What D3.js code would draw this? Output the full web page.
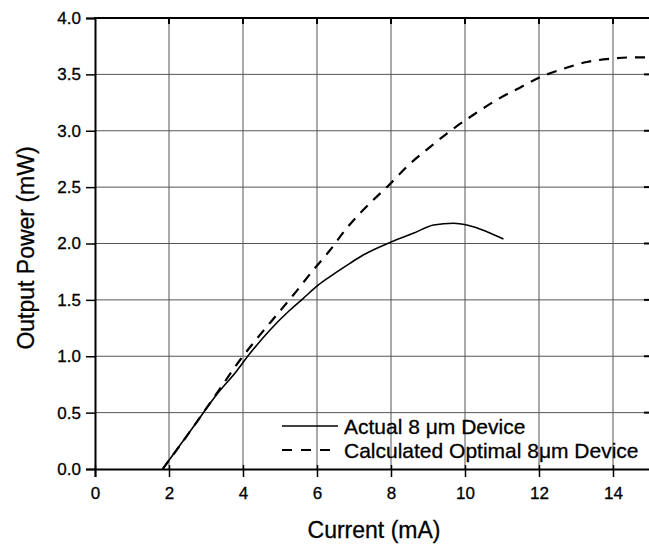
<!DOCTYPE html>
<html>
<head>
<meta charset="utf-8">
<script src="https://cdn.jsdelivr.net/npm/d3@7"></script>
<style>
  body { margin: 0; background: #fff; }
  text { font-family: "Liberation Sans", Arial, sans-serif; fill: #000; stroke: #000; stroke-width: 0.3px; }
</style>
</head>
<body>
<div id="vis"></div>
<script>
const xTicks = [0, 2, 4, 6, 8, 10, 12, 14];
const yTicks = [0, 0.5, 1.0, 1.5, 2.0, 2.5, 3.0, 3.5, 4.0];

// Actual 8 um device (solid)
const actualI = [1.83, 2.66, 3.29, 3.83, 4.19, 4.73, 5.27, 5.63, 6.03, 6.35, 6.89, 7.25, 8.02, 8.6, 9.15, 9.69, 10.05, 10.59, 11.04];
const actualP = [0, 0.375, 0.66, 0.87, 1.026, 1.233, 1.41, 1.514, 1.63, 1.706, 1.824, 1.898, 2.016, 2.09, 2.164, 2.18, 2.164, 2.105, 2.04];

// Calculated optimal 8 um device (dashed)
const optI = [1.83, 2.66, 3.29, 3.92, 4.46, 4.91, 5.36, 5.9, 6.35, 6.8, 7.52, 7.92, 8.49, 9.07, 9.65, 10.22, 10.89, 11.47, 12.0, 12.62, 13.29, 14.0, 14.44, 15.0];
const optP = [0, 0.375, 0.67, 0.967, 1.19, 1.366, 1.543, 1.765, 1.94, 2.135, 2.386, 2.51, 2.70, 2.86, 3.01, 3.14, 3.28, 3.38, 3.47, 3.545, 3.61, 3.64, 3.65, 3.65];

const width = 649, height = 544;
const mLeft = 95, mRight = 650, mTop = 18, mBottom = 469;

const svg = d3.select("#vis").append("svg")
  .attr("width", width)
  .attr("height", height);

const x = d3.scaleLinear().domain([0, 15]).range([mLeft, mRight]);
const y = d3.scaleLinear().domain([0, 4]).range([mBottom, mTop]);

// grid
svg.append("g").selectAll("line").data(xTicks.slice(1)).enter().append("line")
  .attr("x1", d => x(d)).attr("x2", d => x(d))
  .attr("y1", mTop).attr("y2", mBottom)
  .attr("stroke", "#555").attr("stroke-width", 1);
svg.append("g").selectAll("line").data(yTicks.slice(1, -1)).enter().append("line")
  .attr("x1", mLeft).attr("x2", mRight)
  .attr("y1", d => y(d)).attr("y2", d => y(d))
  .attr("stroke", "#555").attr("stroke-width", 1);

// axes
const xAxis = svg.append("g")
  .attr("transform", `translate(0,${mBottom})`)
  .call(d3.axisBottom(x).tickValues(xTicks).tickFormat(d3.format("d")).tickSize(8).tickPadding(10));
const yAxis = svg.append("g")
  .attr("transform", `translate(${mLeft},0)`)
  .call(d3.axisLeft(y).tickValues(yTicks).tickFormat(d3.format(".1f")).tickSize(9).tickPadding(5));

[xAxis, yAxis].forEach(g => {
  g.select(".domain").attr("stroke", "#000").attr("stroke-width", 2);
  g.selectAll(".tick line").attr("stroke", "#000").attr("stroke-width", 1.5);
  g.selectAll("text").attr("font-size", 17)
    .style("font-family", "'Liberation Sans', Arial, sans-serif")
    .attr("stroke", "#000").attr("stroke-width", 0.3);
});
xAxis.selectAll(".tick line").attr("y1", -4);

// top frame and right-side ticks
svg.append("line")
  .attr("x1", mLeft - 1).attr("x2", mRight)
  .attr("y1", mTop).attr("y2", mTop)
  .attr("stroke", "#000").attr("stroke-width", 2);
svg.append("g").selectAll("line").data(xTicks.slice(1)).enter().append("line")
  .attr("x1", d => x(d)).attr("x2", d => x(d))
  .attr("y1", mTop).attr("y2", mTop + 6)
  .attr("stroke", "#000").attr("stroke-width", 2);
svg.append("g").selectAll("line").data(yTicks.slice(1, -1)).enter().append("line")
  .attr("x1", mRight - 6).attr("x2", mRight)
  .attr("y1", d => y(d)).attr("y2", d => y(d))
  .attr("stroke", "#000").attr("stroke-width", 2);

// curves
const line = d3.line().x(d => x(d[0])).y(d => y(d[1])).curve(d3.curveMonotoneX);

svg.append("path")
  .datum(optI.map((v, i) => [v, optP[i]]))
  .attr("d", line)
  .attr("fill", "none").attr("stroke", "#000")
  .attr("stroke-width", 2.2)
  .attr("stroke-dasharray", "10,8");

svg.append("path")
  .datum(actualI.map((v, i) => [v, actualP[i]]))
  .attr("d", line)
  .attr("fill", "none").attr("stroke", "#000")
  .attr("stroke-width", 1.6);

// legend
const legend = svg.append("g");
legend.append("line")
  .attr("x1", 282).attr("x2", 338).attr("y1", 426).attr("y2", 426)
  .attr("stroke", "#000").attr("stroke-width", 1.6);
legend.append("line")
  .attr("x1", 282).attr("x2", 338).attr("y1", 450).attr("y2", 450)
  .attr("stroke", "#000").attr("stroke-width", 2.2).attr("stroke-dasharray", "10,9");
legend.append("text").attr("x", 344).attr("y", 434).attr("font-size", 21)
  .text("Actual 8 \u03BCm Device");
legend.append("text").attr("x", 344).attr("y", 458).attr("font-size", 21)
  .text("Calculated Optimal 8\u03BCm Device");

// axis titles
svg.append("text")
  .attr("x", 374).attr("y", 538)
  .attr("text-anchor", "middle").attr("font-size", 23)
  .text("Current (mA)");
svg.append("text")
  .attr("transform", `translate(34,248) rotate(-90)`)
  .attr("text-anchor", "middle").attr("font-size", 23)
  .text("Output Power (mW)");
</script>
</body>
</html>
